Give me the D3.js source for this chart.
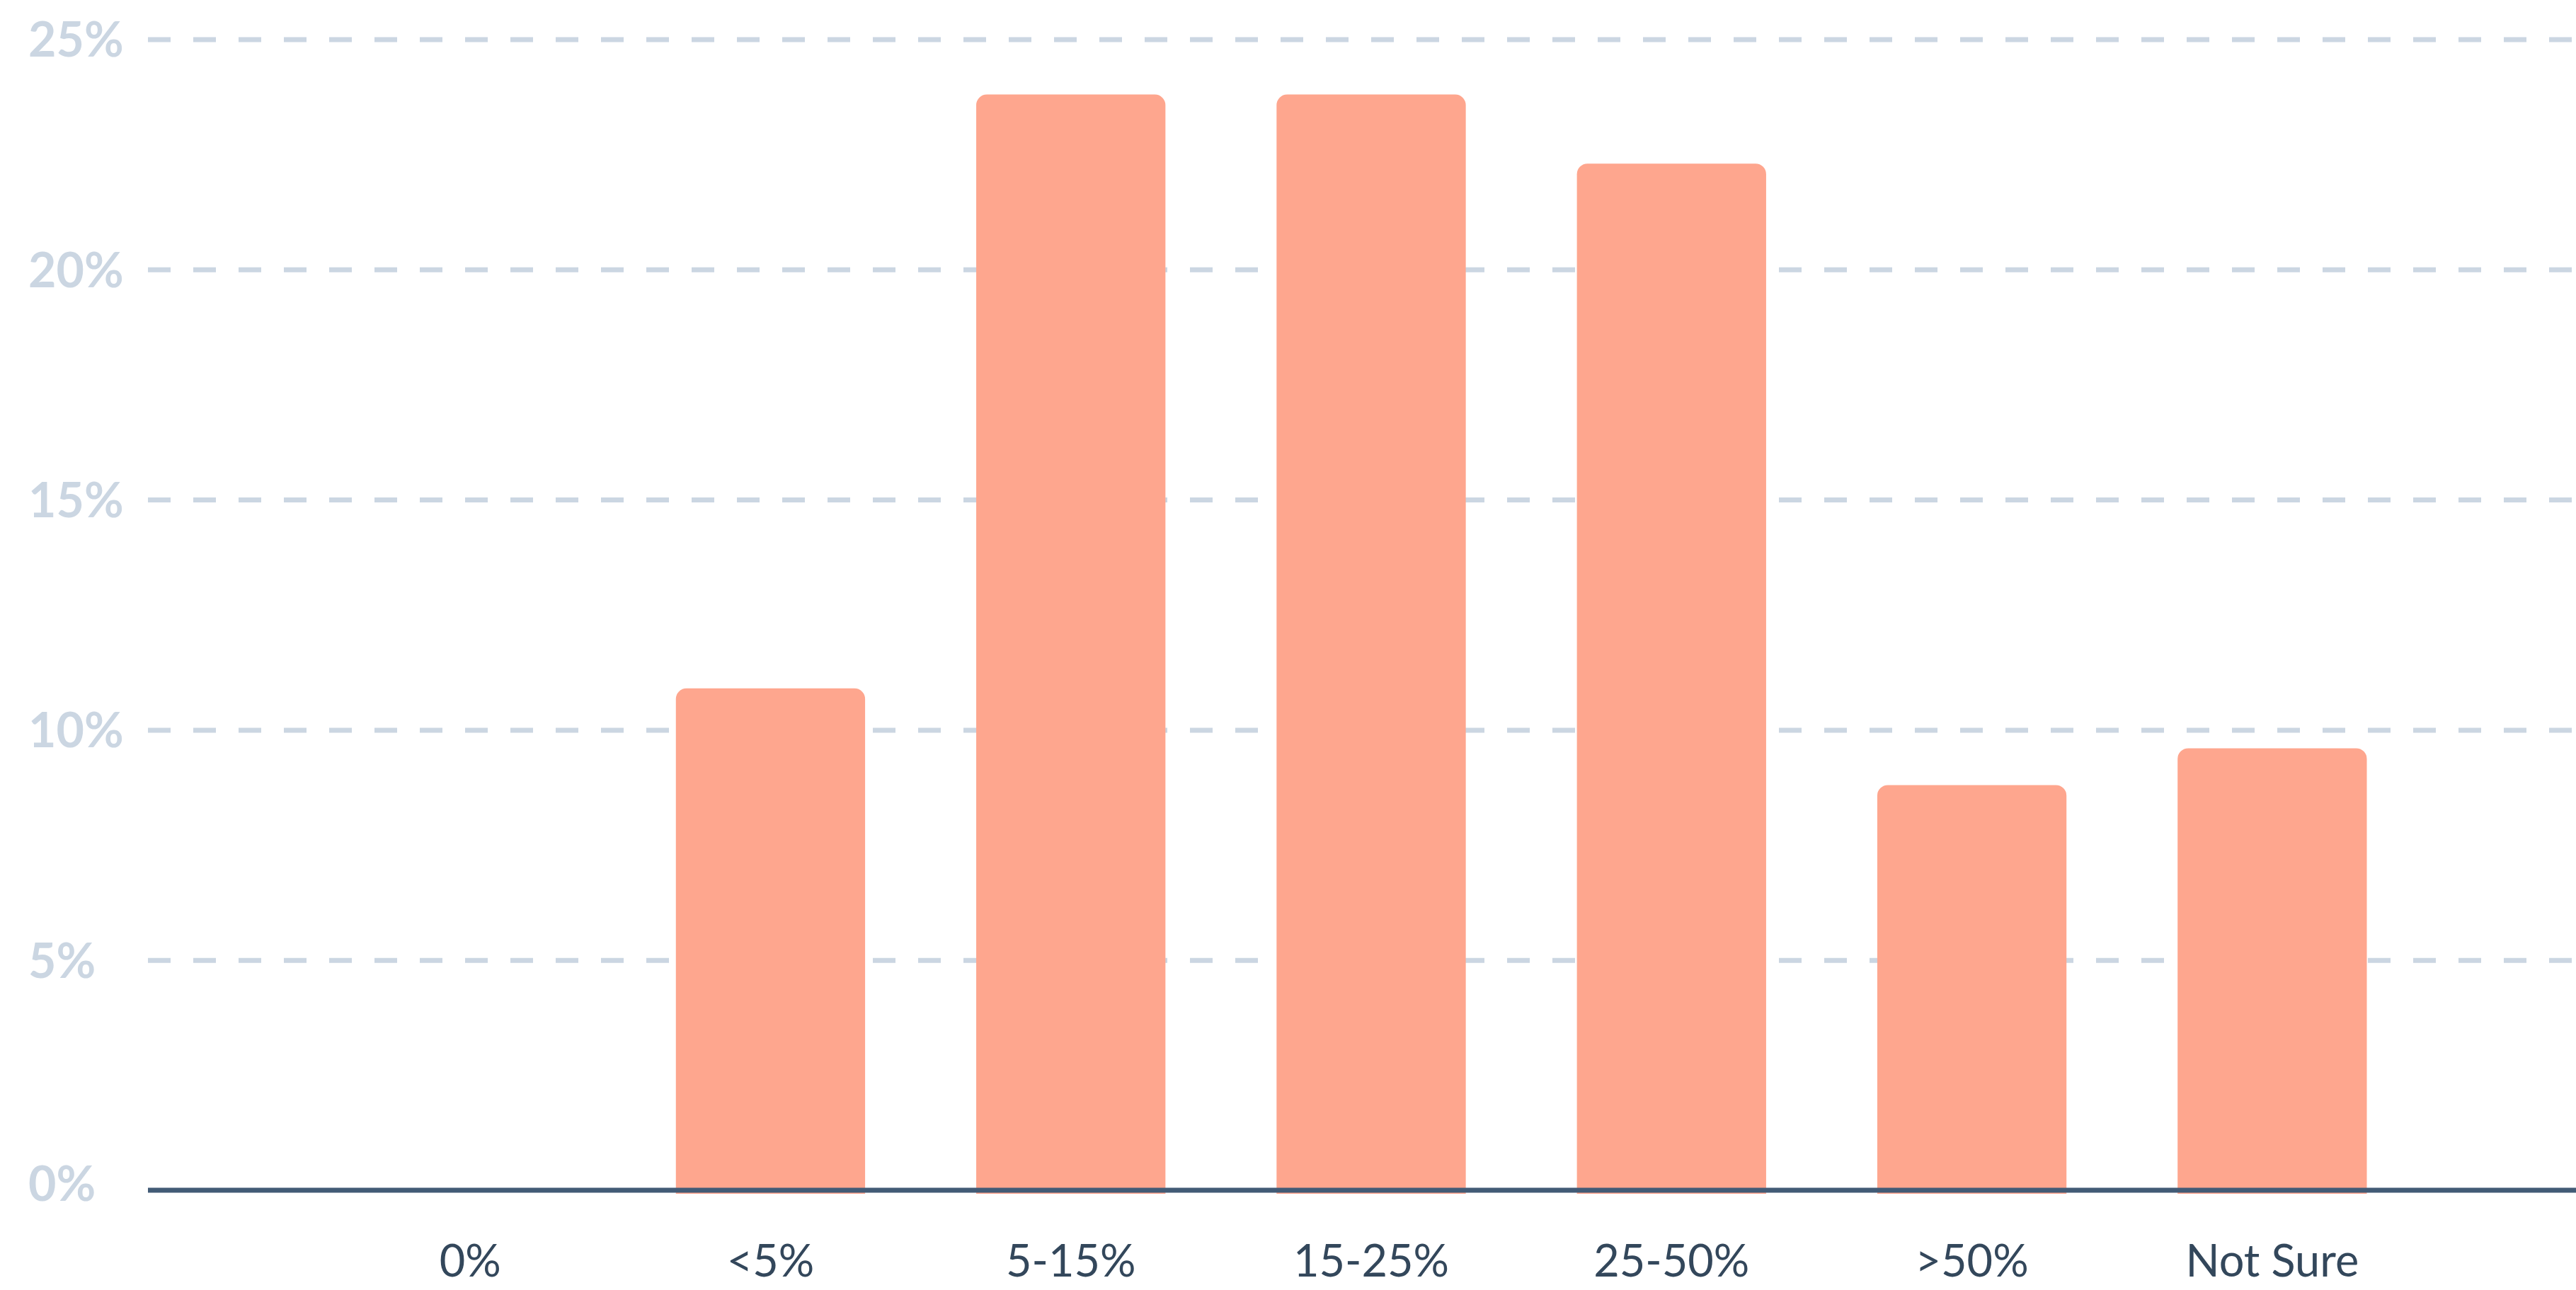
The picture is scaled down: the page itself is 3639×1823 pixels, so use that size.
<!DOCTYPE html>
<html>
<head>
<meta charset="utf-8">
<script src="https://cdn.jsdelivr.net/npm/d3@7"></script>
<style>
  html, body { margin: 0; padding: 0; background: #ffffff; }
  svg { display: block; }
</style>
</head>
<body>
<svg id="chart" width="3639" height="1823"></svg>
<script>
const categories = ["0%", "<5%", "5-15%", "15-25%", "25-50%", ">50%", "Not Sure"];
const values = [0, 10.9, 23.8, 23.8, 22.3, 8.8, 9.6];
const yTicks = [0, 5, 10, 15, 20, 25];

const W = 3639, H = 1823;
const svg = d3.select("#chart");
const font = "Lato, 'Open Sans', sans-serif";

const plotLeft = 209, plotRight = W;
const y = d3.scaleLinear().domain([0, 25]).range([1682, 55.5]);
const x = d3.scaleBand().domain(categories).range([452, 3422]).paddingInner(0.37).paddingOuter(0.185);

// grid + y labels
const yAxis = d3.axisRight(y).tickValues(yTicks.filter(d => d > 0)).tickSize(plotRight - plotLeft).tickFormat(d => d + "%");
const gy = svg.append("g").attr("transform", `translate(${plotLeft},0)`).call(yAxis);
gy.attr("font-size", null).attr("font-family", null);
gy.select(".domain").remove();
gy.selectAll(".tick line").attr("stroke", "#cbd6e2").attr("stroke-width", 7).attr("stroke-dasharray", "32,32");
gy.selectAll(".tick text").attr("x", 40 - plotLeft).attr("dy", "0.36em").attr("text-anchor", "start")
  .attr("fill", "#cbd6e2").style("font-family", font).style("font-size", "68px").style("font-weight", "700");

// 0% label
svg.append("text").attr("x", 40).attr("y", y(0) - 9).attr("dy", "0.36em")
  .attr("fill", "#cbd6e2").style("font-family", font).style("font-size", "68px").style("font-weight", "700")
  .text(yTicks[0] + "%");

// bars
const r = 15;
const base = y(0) + 5;
svg.append("g").selectAll("path").data(categories.map((c, i) => ({c, v: values[i]})).filter(d => d.v > 0))
  .enter().append("path")
  .attr("fill", "#fea68e")
  .attr("d", d => {
    const x0 = x(d.c), w = x.bandwidth(), t = y(d.v);
    return `M${x0},${base} L${x0},${t + r} A${r},${r} 0 0 1 ${x0 + r},${t} L${x0 + w - r},${t} A${r},${r} 0 0 1 ${x0 + w},${t + r} L${x0 + w},${base} Z`;
  });

// baseline
svg.append("line").attr("x1", plotLeft).attr("x2", plotRight).attr("y1", y(0)).attr("y2", y(0))
  .attr("stroke", "#425b76").attr("stroke-width", 7);

// x axis labels
const xAxis = d3.axisBottom(x).tickSize(0).tickPadding(0);
const gx = svg.append("g").attr("transform", `translate(0,1804)`).call(xAxis);
gx.attr("font-size", null).attr("font-family", null);
gx.select(".domain").remove();
gx.selectAll(".tick text").attr("y", 0).attr("dy", 0)
  .attr("fill", "#33475b").style("font-family", font).style("font-size", "63px");
</script>
</body>
</html>
